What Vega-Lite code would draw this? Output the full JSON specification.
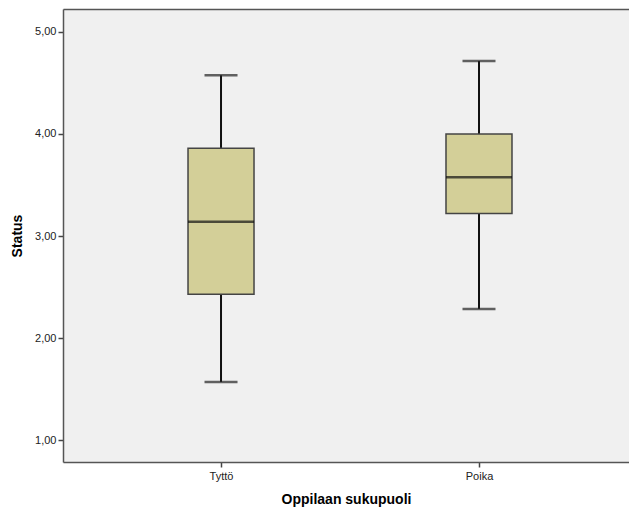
{
  "$schema": "https://vega.github.io/schema/vega-lite/v6.json",
  "autosize": "none",
  "width": 566,
  "height": 453,
  "padding": {"left": 63, "top": 9, "right": 0, "bottom": 53},
  "background": "white",
  "config": {
    "view": {"fill": "#f0f0f0", "stroke": null},
    "font": "Liberation Sans"
  },
  "data": {
    "values": [
      {"group": "Tyttö", "lower": 1.57, "q1": 2.43, "median": 3.14, "q3": 3.86, "upper": 4.575},
      {"group": "Poika", "lower": 2.285, "q1": 3.22, "median": 3.575, "q3": 4.0, "upper": 4.715}
    ]
  },
  "resolve": {"axis": {"x": "independent"}},
  "layer": [
    {
      "mark": {"type": "rule", "color": "#111111", "strokeWidth": 2},
      "encoding": {
        "x": {
          "field": "group",
          "type": "nominal",
          "sort": ["Tyttö", "Poika"],
          "scale": {"type": "point", "padding": 0.597, "align": 0.513},
          "axis": {
            "title": "Oppilaan sukupuoli",
            "titleFont": "Liberation Sans",
            "titleFontSize": 14,
            "titleFontWeight": "bold",
            "titleColor": "#000000",
            "titlePadding": 11,
            "labelFont": "Liberation Sans",
            "labelFontSize": 11,
            "labelColor": "#222222",
            "labelPadding": 3,
            "labelAngle": 0,
            "tickSize": 5,
            "tickColor": "#444444",
            "tickWidth": 1.5,
            "domain": true,
            "domainColor": "#555555",
            "domainWidth": 1.5,
            "grid": false
          }
        },
        "y": {
          "field": "lower",
          "type": "quantitative",
          "scale": {"domain": [0.785, 5.225], "nice": false, "zero": false},
          "axis": {
            "title": "Status",
            "titleFont": "Liberation Sans",
            "titleFontSize": 14,
            "titleFontWeight": "bold",
            "titleColor": "#000000",
            "titlePadding": 10,
            "values": [1, 2, 3, 4, 5],
            "labelExpr": "replace(format(datum.value, '.2f'), '.', ',')",
            "labelFont": "Liberation Sans",
            "labelFontSize": 11,
            "labelColor": "#222222",
            "labelPadding": 2,
            "tickSize": 5,
            "tickColor": "#444444",
            "tickWidth": 1.5,
            "domain": true,
            "domainColor": "#555555",
            "domainWidth": 1.5,
            "grid": false
          }
        },
        "y2": {"field": "upper"}
      }
    },
    {
      "mark": {"type": "tick", "color": "#222222", "thickness": 2.5, "size": 33},
      "encoding": {
        "x": {
          "field": "group",
          "type": "nominal",
          "sort": ["Tyttö", "Poika"],
          "axis": {
            "orient": "top",
            "title": null,
            "labels": false,
            "ticks": false,
            "grid": false,
            "domain": true,
            "domainColor": "#555555",
            "domainWidth": 1.5
          }
        },
        "y": {"field": "lower", "type": "quantitative"}
      }
    },
    {
      "mark": {"type": "tick", "color": "#222222", "thickness": 2.5, "size": 33},
      "encoding": {
        "x": {"field": "group", "type": "nominal", "sort": ["Tyttö", "Poika"], "axis": null},
        "y": {"field": "upper", "type": "quantitative"}
      }
    },
    {
      "mark": {"type": "bar", "size": 66, "fill": "#d3cf98", "stroke": "#444444", "strokeWidth": 1.5},
      "encoding": {
        "x": {"field": "group", "type": "nominal", "sort": ["Tyttö", "Poika"], "axis": null},
        "y": {"field": "q1", "type": "quantitative"},
        "y2": {"field": "q3"}
      }
    },
    {
      "mark": {"type": "tick", "color": "#111111", "thickness": 2.5, "size": 66},
      "encoding": {
        "x": {"field": "group", "type": "nominal", "sort": ["Tyttö", "Poika"], "axis": null},
        "y": {"field": "median", "type": "quantitative"}
      }
    }
  ]
}
